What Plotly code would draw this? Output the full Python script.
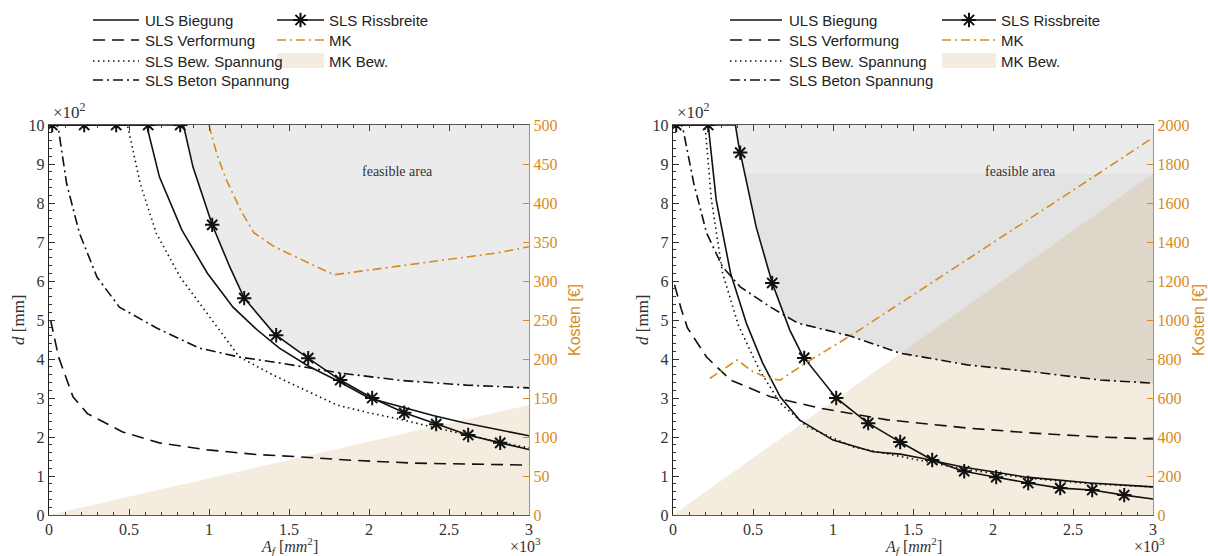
import numpy as np
import plotly.graph_objects as go

# ---------------- data ----------------
# Left chart (primary: d in x10^2 mm, x: A_f in x10^3 mm^2, secondary: Kosten 0..500)
L_uls_x = [0, 0.61, 0.69, 0.83, 0.99, 1.15, 1.30, 1.44, 1.62, 1.80, 2.00, 2.20, 2.40, 2.60, 2.80, 3.00]
L_uls_y = [10, 10, 8.67, 7.31, 6.20, 5.33, 4.75, 4.28, 3.82, 3.45, 3.00, 2.77, 2.55, 2.36, 2.20, 2.03]
L_ris_x = [0, 0.84, 0.90, 1.02, 1.13, 1.22, 1.41, 1.61, 1.82, 2.02, 2.22, 2.42, 2.62, 2.82, 3.00]
L_ris_y = [10, 10, 8.92, 7.44, 6.36, 5.56, 4.64, 4.05, 3.46, 3.00, 2.62, 2.33, 2.05, 1.85, 1.68]
L_ver_x = [0.01, 0.06, 0.15, 0.24, 0.46, 0.69, 0.99, 1.30, 1.57, 1.86, 2.28, 3.00]
L_ver_y = [5.0, 4.05, 3.03, 2.60, 2.13, 1.85, 1.67, 1.55, 1.49, 1.41, 1.33, 1.28]
L_bew_x = [0, 0.49, 0.57, 0.67, 0.82, 1.02, 1.19, 1.40, 1.60, 1.80, 2.00, 2.21, 2.40, 2.61, 2.80, 3.00]
L_bew_y = [10, 10, 8.5, 7.23, 6.10, 5.00, 4.05, 3.59, 3.20, 2.82, 2.62, 2.44, 2.25, 2.05, 1.88, 1.72]
L_bet_x = [0, 0.05, 0.06, 0.11, 0.19, 0.30, 0.44, 0.67, 0.94, 1.19, 1.44, 1.82, 2.20, 2.61, 3.00]
L_bet_y = [10, 10, 9.87, 8.5, 7.23, 6.10, 5.33, 4.80, 4.28, 4.05, 3.90, 3.64, 3.45, 3.33, 3.26]
L_mk_x = [1.00, 1.05, 1.11, 1.20, 1.28, 1.40, 1.50, 1.78, 2.00, 2.30, 2.60, 2.80, 3.00]
L_mk_y = [500, 462, 429, 390, 362, 345, 335, 308, 314, 322, 330, 336, 344]
L_mkbew_x = [0, 3.0]
L_mkbew_y = [0, 141]

# Right chart (secondary: Kosten 0..2000)
R_uls_x = [0, 0.22, 0.27, 0.36, 0.46, 0.56, 0.67, 0.79, 1.00, 1.25, 1.42, 1.54, 1.81, 2.21, 2.61, 3.00]
R_uls_y = [10, 10, 8.08, 6.20, 4.90, 3.90, 3.03, 2.44, 1.92, 1.62, 1.56, 1.47, 1.23, 0.97, 0.82, 0.72]
R_ris_x = [0, 0.39, 0.41, 0.46, 0.52, 0.62, 0.73, 0.81, 1.02, 1.21, 1.42, 1.62, 1.81, 2.02, 2.22, 2.42, 2.62, 2.82, 3.00]
R_ris_y = [10, 10, 9.49, 8.5, 7.38, 5.95, 4.74, 4.08, 3.00, 2.38, 1.87, 1.41, 1.13, 0.97, 0.82, 0.69, 0.64, 0.51, 0.41]
R_ver_x = [0.01, 0.05, 0.09, 0.21, 0.36, 0.61, 0.92, 1.34, 1.84, 2.25, 2.67, 3.00]
R_ver_y = [5.9, 5.3, 4.8, 4.05, 3.46, 3.03, 2.74, 2.44, 2.23, 2.10, 2.00, 1.95]
R_bew_x = [0, 0.20, 0.24, 0.31, 0.41, 0.54, 0.67, 0.84, 1.13, 1.54, 1.81, 2.21, 2.61, 3.00]
R_bew_y = [10, 10, 8.08, 6.20, 4.85, 3.72, 2.87, 2.26, 1.74, 1.41, 1.18, 0.95, 0.80, 0.72]
R_bet_x = [0, 0.05, 0.06, 0.13, 0.21, 0.31, 0.42, 0.61, 0.78, 1.10, 1.42, 1.84, 2.25, 2.67, 3.00]
R_bet_y = [10, 10, 9.95, 8.5, 7.23, 6.36, 5.85, 5.33, 4.92, 4.60, 4.15, 3.85, 3.67, 3.46, 3.38]
R_mk_x = [0.23, 0.40, 0.50, 0.60, 0.67, 0.84, 1.13, 1.42, 2.00, 2.50, 3.00]
R_mk_y = [700, 795, 735, 700, 692, 785, 930, 1085, 1395, 1665, 1935]
R_mkbew_x = [0, 3.0]
R_mkbew_y = [0, 1750]

ris_marker_x = [0.02, 0.22, 0.42, 0.62, 0.82, 1.02, 1.22, 1.42, 1.62, 1.82, 2.02, 2.22, 2.42, 2.62, 2.82]

x_ticks = [0, 0.5, 1, 1.5, 2, 2.5, 3]
x_ticktext = ["0", "0.5", "1", "1.5", "2", "2.5", "3"]
y_ticks = list(range(0, 11))
L_cost_ticks = list(range(0, 501, 50))
R_cost_ticks = list(range(0, 2001, 200))

legend_names = ["ULS Biegung", "SLS Verformung", "SLS Bew. Spannung", "SLS Beton Spannung",
                "SLS Rissbreite", "MK", "MK Bew."]

# ---------------- styles ----------------
W, H = 1208, 556
ORANGE = "#D68A22"
BLACK = "#111111"
GRAY_FEAS = "#EBEBEB"
GRAY_FEAS2 = "#E3E3E3"
TAN = "rgba(205,169,111,0.22)"
SERIF = "Liberation Serif"
SANS = "Liberation Sans"
DASH = "12px,7px"
DOT = "1.5px,3.5px"
DASHDOT = "10px,4px,2px,4px"
MKDASH = "9px,4px,2px,4px"
STAR = dict(symbol="asterisk-open", size=12, color=BLACK, line=dict(color=BLACK, width=2))

fig = go.Figure()


def add_panel(xa, ya, ya2, cost_max, c):
    curves = [(c["uls_x"], c["uls_y"]), (c["ris_x"], c["ris_y"]), (c["ver_x"], c["ver_y"]),
              (c["bew_x"], c["bew_y"]), (c["bet_x"], c["bet_y"])]
    grid = np.linspace(0, 3, 601)
    lower = np.max([np.interp(grid, np.array(cx), np.array(cy)) for cx, cy in curves], axis=0)
    top = np.full_like(grid, 10.0)
    fig.add_trace(go.Scatter(x=np.concatenate([grid, grid[::-1]]), y=np.concatenate([lower, top[::-1]]),
                             fill="toself", fillcolor=GRAY_FEAS, line=dict(width=0), mode="lines",
                             hoverinfo="skip", showlegend=False, xaxis=xa, yaxis=ya))
    # darker band inside feasible area below MK Bew. maximum
    cap = max(c["mkbew_y"]) / cost_max * 10
    m = lower < cap
    if m.any():
        g = grid[m]
        lo = lower[m]
        fig.add_trace(go.Scatter(x=np.concatenate([g, g[::-1]]),
                                 y=np.concatenate([lo, np.full_like(g, cap)[::-1]]),
                                 fill="toself", fillcolor=GRAY_FEAS2, line=dict(width=0), mode="lines",
                                 hoverinfo="skip", showlegend=False, xaxis=xa, yaxis=ya))
    # MK Bew. area (converted onto primary scale)
    fig.add_trace(go.Scatter(x=c["mkbew_x"], y=[v / cost_max * 10 for v in c["mkbew_y"]],
                             fill="tozeroy", fillcolor=TAN, line=dict(width=0), mode="lines",
                             hoverinfo="skip", showlegend=False, xaxis=xa, yaxis=ya))
    # constraint curves
    fig.add_trace(go.Scatter(x=c["ver_x"], y=c["ver_y"], mode="lines",
                             line=dict(color=BLACK, width=1.6, dash=DASH), showlegend=False, xaxis=xa, yaxis=ya))
    fig.add_trace(go.Scatter(x=c["bew_x"], y=c["bew_y"], mode="lines",
                             line=dict(color=BLACK, width=1.6, dash=DOT), showlegend=False, xaxis=xa, yaxis=ya))
    fig.add_trace(go.Scatter(x=c["bet_x"], y=c["bet_y"], mode="lines",
                             line=dict(color=BLACK, width=1.6, dash=DASHDOT), showlegend=False, xaxis=xa, yaxis=ya))
    fig.add_trace(go.Scatter(x=c["uls_x"], y=c["uls_y"], mode="lines",
                             line=dict(color=BLACK, width=1.6), showlegend=False, xaxis=xa, yaxis=ya))
    fig.add_trace(go.Scatter(x=c["ris_x"], y=c["ris_y"], mode="lines",
                             line=dict(color=BLACK, width=1.6), showlegend=False, xaxis=xa, yaxis=ya))
    fig.add_trace(go.Scatter(x=ris_marker_x, y=np.interp(ris_marker_x, c["ris_x"], c["ris_y"]), mode="markers",
                             marker=STAR, showlegend=False, xaxis=xa, yaxis=ya))
    # MK cost curve on secondary axis
    fig.add_trace(go.Scatter(x=c["mk_x"], y=c["mk_y"], mode="lines",
                             line=dict(color=ORANGE, width=1.6, dash=MKDASH), showlegend=False, xaxis=xa, yaxis=ya2))


left = dict(uls_x=L_uls_x, uls_y=L_uls_y, ris_x=L_ris_x, ris_y=L_ris_y, ver_x=L_ver_x, ver_y=L_ver_y,
            bew_x=L_bew_x, bew_y=L_bew_y, bet_x=L_bet_x, bet_y=L_bet_y, mk_x=L_mk_x, mk_y=L_mk_y,
            mkbew_x=L_mkbew_x, mkbew_y=L_mkbew_y)
right = dict(uls_x=R_uls_x, uls_y=R_uls_y, ris_x=R_ris_x, ris_y=R_ris_y, ver_x=R_ver_x, ver_y=R_ver_y,
             bew_x=R_bew_x, bew_y=R_bew_y, bet_x=R_bet_x, bet_y=R_bet_y, mk_x=R_mk_x, mk_y=R_mk_y,
             mkbew_x=R_mkbew_x, mkbew_y=R_mkbew_y)

add_panel("x", "y", "y2", 500, left)
add_panel("x2", "y3", "y4", 2000, right)


# ---------------- legends (drawn on a full-figure pixel overlay) ----------------
def add_legend(x0_line, x1_line, x0_text, x0_line2, x1_line2, x0_text2):
    rows = [20, 40, 61, 80]
    dashes = ["solid", DASH, DOT, DASHDOT]
    ann = []
    for r, d, name in zip(rows, dashes, legend_names[:4]):
        fig.add_trace(go.Scatter(x=[x0_line, x1_line], y=[r, r], mode="lines",
                                 line=dict(color=BLACK, width=1.6, dash=d),
                                 showlegend=False, hoverinfo="skip", xaxis="x3", yaxis="y5"))
        ann.append((x0_text, r, name))
    fig.add_trace(go.Scatter(x=[x0_line2, x1_line2], y=[rows[0], rows[0]], mode="lines",
                             line=dict(color=BLACK, width=1.6), showlegend=False, hoverinfo="skip",
                             xaxis="x3", yaxis="y5"))
    fig.add_trace(go.Scatter(x=[(x0_line2 + x1_line2) / 2], y=[rows[0]], mode="markers",
                             marker=STAR, showlegend=False, hoverinfo="skip", xaxis="x3", yaxis="y5"))
    ann.append((x0_text2, rows[0], legend_names[4]))
    fig.add_trace(go.Scatter(x=[x0_line2, x1_line2], y=[rows[1], rows[1]], mode="lines",
                             line=dict(color=ORANGE, width=1.6, dash=MKDASH), showlegend=False,
                             hoverinfo="skip", xaxis="x3", yaxis="y5"))
    ann.append((x0_text2, rows[1], legend_names[5]))
    fig.add_shape(type="rect", xref="x3", yref="y5", x0=x0_line2, x1=x1_line2, y0=rows[2] - 8, y1=rows[2] + 7,
                  fillcolor=TAN, line=dict(width=0))
    ann.append((x0_text2, rows[2], legend_names[6]))
    for x, y, t in ann:
        fig.add_annotation(x=x, y=y, text=t, xref="x3", yref="y5", showarrow=False,
                           xanchor="left", yanchor="middle", font=dict(family=SANS, size=15, color="#222"))


add_legend(93, 139, 143, 277, 324, 327)
add_legend(730, 782, 787, 942, 996, 999)

# ---------------- other texts ----------------
texts = [
    (397, 171, "feasible area", SERIF, 14, "#333", 0, "center"),
    (1020, 171, "feasible area", SERIF, 14, "#333", 0, "center"),
    (51, 111, "×10<sup>2</sup>", SERIF, 17, "#333", 0, "left"),
    (675, 111, "×10<sup>2</sup>", SERIF, 17, "#333", 0, "left"),
    (508, 545, "×10<sup>3</sup>", SERIF, 16, "#333", 0, "left"),
    (1132, 545, "×10<sup>3</sup>", SERIF, 16, "#333", 0, "left"),
    (289, 546, "<i>A<sub>f</sub></i> [<i>mm</i><sup>2</sup>]", SERIF, 16, "#333", 0, "center"),
    (913, 546, "<i>A<sub>f</sub></i> [<i>mm</i><sup>2</sup>]", SERIF, 16, "#333", 0, "center"),
    (18, 320, "<i>d</i> [mm]", SERIF, 17, "#333", -90, "center"),
    (642, 320, "<i>d</i> [mm]", SERIF, 17, "#333", -90, "center"),
    (574, 320, "Kosten [€]", SANS, 16, ORANGE, -90, "center"),
    (1198, 320, "Kosten [€]", SANS, 16, ORANGE, -90, "center"),
]
for x, y, t, fam, sz, col, ang, anc in texts:
    fig.add_annotation(x=x, y=y, text=t, xref="x3", yref="y5", showarrow=False, textangle=ang,
                       xanchor=anc, yanchor="middle", font=dict(family=fam, size=sz, color=col))

# ---------------- axes ----------------
ydom = [41 / H, 431 / H]
tickfont = dict(family=SERIF, size=16, color="#333")
xcommon = dict(range=[0, 3], tickvals=x_ticks, ticktext=x_ticktext, ticks="inside", ticklen=6,
               tickcolor="#444", showline=True, linecolor="#555", linewidth=1.2, mirror="ticks",
               showgrid=False, zeroline=False, tickfont=tickfont, automargin=False,
               minor=dict(dtick=0.1, ticks="inside", ticklen=3, tickcolor="#444", showgrid=False))
ycommon = dict(range=[0, 10], tickvals=y_ticks, ticks="inside", ticklen=6, tickcolor="#333",
               showline=True, linecolor="#222", linewidth=1.4, showgrid=False, zeroline=False,
               tickfont=tickfont, automargin=False,
               minor=dict(dtick=0.2, ticks="inside", ticklen=3, tickcolor="#333", showgrid=False))
y2common = dict(side="right", ticks="inside", ticklen=6, tickcolor=ORANGE, showline=True,
                linecolor=ORANGE, linewidth=1.4, showgrid=False, zeroline=False, automargin=False,
                tickfont=dict(family=SERIF, size=16, color=ORANGE))

fig.update_layout(
    width=W, height=H, margin=dict(l=0, r=0, t=0, b=0, pad=0),
    paper_bgcolor="white", plot_bgcolor="rgba(0,0,0,0)",
    showlegend=False,
    xaxis=dict(domain=[49 / W, 529 / W], anchor="y", **xcommon),
    yaxis=dict(domain=ydom, anchor="x", **ycommon),
    yaxis2=dict(overlaying="y", anchor="x", range=[0, 500], tickvals=L_cost_ticks, **y2common),
    xaxis2=dict(domain=[673 / W, 1153 / W], anchor="y3", **xcommon),
    yaxis3=dict(domain=ydom, anchor="x2", **ycommon),
    yaxis4=dict(overlaying="y3", anchor="x2", range=[0, 2000], tickvals=R_cost_ticks, **y2common),
    xaxis3=dict(domain=[0, 1], anchor="y5", range=[0, W], visible=False, fixedrange=True, automargin=False),
    yaxis5=dict(domain=[0, 1], anchor="x3", range=[H, 0], visible=False, fixedrange=True, automargin=False),
)

fig.write_html("out.html")
